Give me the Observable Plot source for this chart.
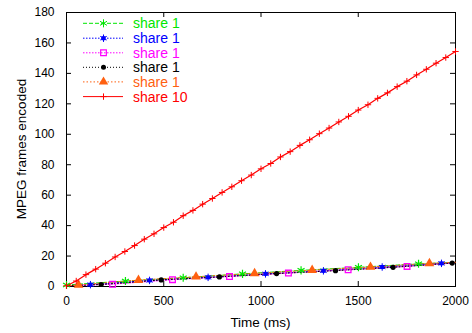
<!DOCTYPE html>
<html><head><meta charset="utf-8">
<script src="https://cdn.jsdelivr.net/npm/d3@7"></script>
<script src="https://cdn.jsdelivr.net/npm/@observablehq/plot@0.6"></script>
<style>
body{margin:0;background:#fff}
svg{font-family:"Liberation Sans",Arial,Helvetica,sans-serif}
</style>
</head><body><div id="chart"></div>
<script>
// ---- data ----
const xTicks = [0, 500, 1000, 1500, 2000];
const yTicks = [0, 20, 40, 60, 80, 100, 120, 140, 160, 180];
const xLabel = "Time (ms)";
const yLabel = "MPEG frames encoded";

const names  = ["share 1", "share 1", "share 1", "share 1", "share 1", "share 10"];
const colors = ["#00e600", "#0000ff", "#ff00ff", "#000000", "#ff6010", "#ff0000"];

// marker times / values of the five "share 1" series
const greenT   = [0, 303, 600, 905, 1206, 1501, 1810];
const greenV   = [1.0, 3.6, 5.7, 8.3, 10.6, 12.6, 14.9];
const blueT    = [123, 427, 728, 1023, 1321, 1623, 1928];
const blueV    = [1.2, 4.0, 6.0, 8.3, 10.3, 12.8, 15.2];
const magentaT = [237, 545, 838, 1141, 1448, 1751];
const magentaV = [1.5, 4.5, 6.6, 8.8, 11.0, 13.2];
const blackT   = [178, 487, 786, 1080, 1383, 1679, 1983];
const blackV   = [1.3, 4.3, 6.3, 8.5, 10.4, 12.6, 15.4];
const orangeT  = [62, 370, 666, 967, 1263, 1563, 1866];
const orangeV  = [1.0, 4.2, 6.4, 8.6, 10.7, 12.8, 15.2];
// line start (t=0) and end (t=2000) values of those series
const startV = [1.0, 0.5, 0.5, 0.5, 0.5];
const endV   = [15.8, 15.6, 15.5, 15.7, 15.9];

// "share 10" series
const redT = [0,50,100,150,200,250,300,350,400,450,500,550,600,650,700,750,800,850,900,950,
              1000,1050,1100,1150,1200,1250,1300,1350,1400,1450,1500,1550,1600,1650,1700,1750,
              1800,1850,1900,1950,2000];
const redV = [0.5,3.6,7.8,11.4,15.3,19.4,23.0,26.9,31.1,34.6,38.7,42.2,46.5,50.0,54.1,57.8,61.8,65.5,69.5,73.2,
              77.3,80.8,85.1,88.6,92.7,96.4,100.4,104.1,108.1,111.8,115.9,119.4,123.6,127.2,131.3,134.9,
              139.0,142.7,146.7,150.4,154.4];

// ---- build tables ----
const smallT = [greenT, blueT, magentaT, blackT, orangeT];
const smallV = [greenV, blueV, magentaV, blackV, orangeV];
const markers = smallT.map((ts, i) => ts.map((t, j) => ({t, v: smallV[i][j]})));
const lines = smallT.map((ts, i) => {
  const pts = markers[i].slice();
  if (pts[0].t !== 0) pts.unshift({t: 0, v: startV[i]});
  pts.push({t: 2000, v: endV[i]});
  return pts;
});
const red = redT.map((t, j) => ({t, v: redV[j]}));

const dashes = ["4,2", "1.5,1.5", "1.5,1.5", "1,2", "1.5,2", null];
const symbols = ["asterisk", "square", "square", "circle", "triangle", "plus"];

const W = 472, H = 333, mL = 66, mR = 17, mT = 12, mB = 47;
const pw = W - mL - mR, ph = H - mT - mB;
const tick = 5;

const marks = [
  Plot.frame({stroke: "black", strokeWidth: 1}),
  // inward ticks, all four sides
  Plot.ruleX(xTicks, {x: d => d, insetTop: ph - tick, stroke: "black"}),
  Plot.ruleX(xTicks, {x: d => d, insetBottom: ph - tick, stroke: "black"}),
  Plot.ruleY(yTicks, {y: d => d, insetRight: pw - tick, stroke: "black"}),
  Plot.ruleY(yTicks, {y: d => d, insetLeft: pw - tick, stroke: "black"}),
  Plot.axisX(xTicks, {tickSize: 0, tickPadding: 10, fontSize: 12, label: null, fill: "black", tickFormat: d => String(d)}),
  Plot.axisY(yTicks, {tickSize: 0, tickPadding: 12, fontSize: 12, label: null, fill: "black", tickFormat: d => String(d)})
];
lines.forEach((pts, i) => {
  marks.push(Plot.line(pts, {x: "t", y: "v", stroke: colors[i], strokeWidth: 1, strokeDasharray: dashes[i]}));
});
marks.push(Plot.line(red, {x: "t", y: "v", stroke: colors[5], strokeWidth: 1.2}));
markers.forEach((pts, i) => {
  if (i === 1) {
    marks.push(Plot.dot(pts, {x: "t", y: "v", symbol: "square", r: 2.3, fill: colors[i]}));
    marks.push(Plot.dot(pts, {x: "t", y: "v", symbol: "asterisk", r: 3.5, stroke: colors[i], strokeWidth: 1}));
  } else if (i === 2) {
    marks.push(Plot.dot(pts, {x: "t", y: "v", symbol: "square", r: 3.2, stroke: colors[i], strokeWidth: 1.3, fill: "none"}));
  } else if (i === 0) {
    marks.push(Plot.dot(pts, {x: "t", y: "v", symbol: "asterisk", r: 3.8, stroke: colors[i], strokeWidth: 1.2}));
  } else {
    marks.push(Plot.dot(pts, {x: "t", y: "v", symbol: symbols[i], r: i === 3 ? 2.6 : 3.6, fill: colors[i]}));
  }
});
marks.push(Plot.dot(red, {x: "t", y: "v", symbol: "plus", r: 2.2, stroke: colors[5], strokeWidth: 1}));

const chart = Plot.plot({
  width: W, height: H,
  marginLeft: mL, marginRight: mR, marginTop: mT, marginBottom: mB,
  style: {fontFamily: '"Liberation Sans", Arial, sans-serif', fontSize: "12px", color: "black", background: "white"},
  x: {domain: [0, 2000]},
  y: {domain: [0, 180]},
  marks
});
document.getElementById("chart").appendChild(chart);

// axis titles and legend
const svg = d3.select(chart);
svg.append("text").attr("x", mL + pw / 2).attr("y", 322.5).attr("dy", "0.35em")
  .attr("text-anchor", "middle").attr("font-size", 13.5).attr("fill", "black").text(xLabel);
svg.append("text").attr("transform", `translate(21,${mT + ph / 2}) rotate(-90)`).attr("dy", "0.35em")
  .attr("text-anchor", "middle").attr("font-size", 13.5).attr("fill", "black").text(yLabel);

const rowY = [23.3, 38.2, 52.8, 67.3, 81.9, 96.6];
const lg = svg.append("g");
const d3sym = {asterisk: d3.symbolAsterisk, square: d3.symbolSquare, circle: d3.symbolCircle, triangle: d3.symbolTriangle, plus: d3.symbolPlus};
names.forEach((n, i) => {
  const y = rowY[i];
  lg.append("line").attr("x1", 83).attr("x2", 123).attr("y1", y).attr("y2", y)
    .attr("stroke", colors[i]).attr("stroke-width", 1).attr("stroke-dasharray", dashes[i]);
  const g = lg.append("g").attr("transform", `translate(103.5,${y})`);
  const path = (type, r) => d3.symbol().type(d3sym[type]).size(Math.PI * r * r)();
  if (i === 1) {
    g.append("path").attr("d", path("square", 2.3)).attr("fill", colors[i]);
    g.append("path").attr("d", path("asterisk", 3.5)).attr("fill", "none").attr("stroke", colors[i]);
  } else if (i === 2) {
    g.append("path").attr("d", path("square", 3.2)).attr("fill", "none").attr("stroke", colors[i]).attr("stroke-width", 1.2);
  } else if (i === 0 || i === 5) {
    g.append("path").attr("d", path(symbols[i], i === 0 ? 3.8 : 2.2)).attr("fill", "none").attr("stroke", colors[i]);
  } else {
    g.append("path").attr("d", path(symbols[i], i === 3 ? 2.5 : 3.5)).attr("fill", colors[i]);
  }
  lg.append("text").attr("x", 133).attr("y", y).attr("dy", "0.36em").attr("font-size", 14)
    .attr("text-anchor", "start").attr("fill", colors[i]).text(n);
});
</script>
</body></html>
